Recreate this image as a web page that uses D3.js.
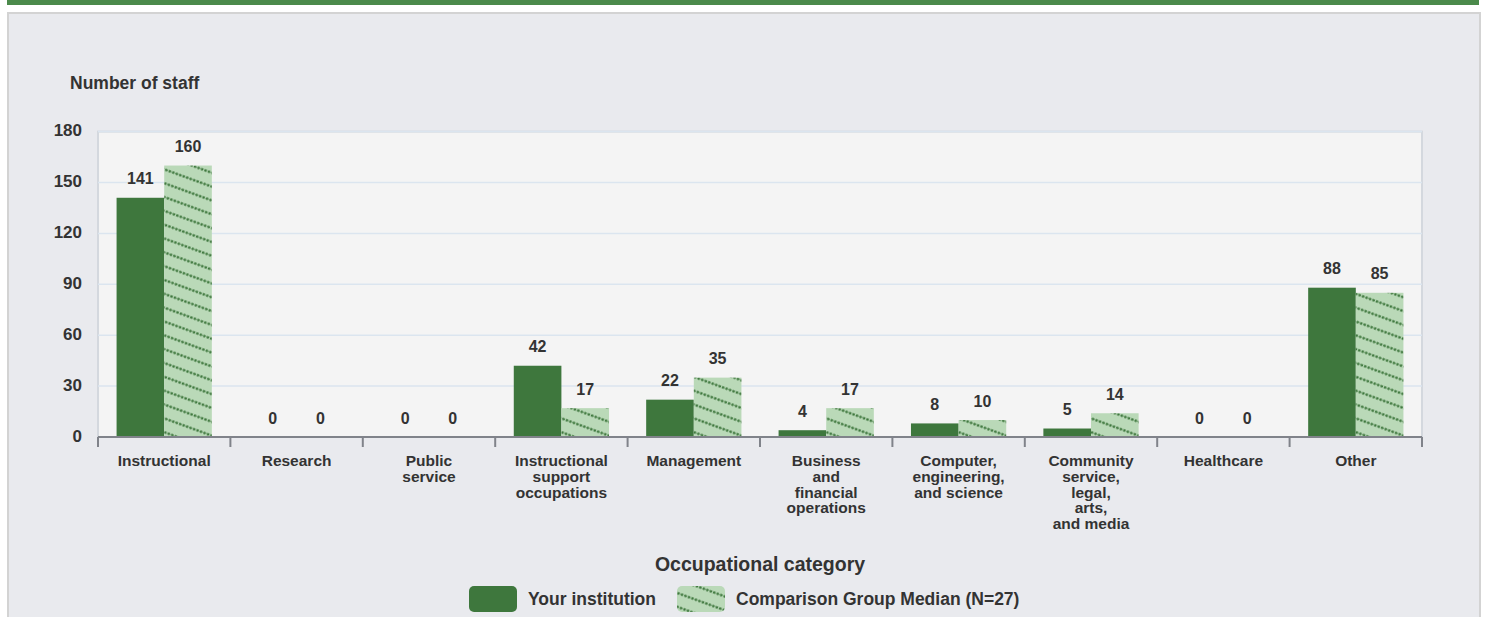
<!DOCTYPE html>
<html>
<head>
<meta charset="utf-8">
<script src="https://cdn.jsdelivr.net/npm/d3@7"></script>
<style>
  body { margin: 0; background: #fff; }
  svg text { font-family: Arial, "Liberation Sans", sans-serif; fill: #333; font-weight: bold; }
</style>
</head>
<body>
<svg width="1488" height="617"></svg>
<script>
// Chart data
const categories = ['Instructional', 'Research', 'Public service', 'Instructional support occupations',
  'Management', 'Business and financial operations', 'Computer, engineering, and science',
  'Community service, legal, arts, and media', 'Healthcare', 'Other']
// how each category label is broken in lines
const categoryLines = [
  ['Instructional'], ['Research'], ['Public', 'service'], ['Instructional', 'support', 'occupations'],
  ['Management'], ['Business', 'and', 'financial', 'operations'], ['Computer,', 'engineering,', 'and science'],
  ['Community', 'service,', 'legal,', 'arts,', 'and media'], ['Healthcare'], ['Other']
]
const yourInstitution = [141, 0, 0, 42, 22, 4, 8, 5, 0, 88]
const comparisonMedian = [160, 0, 0, 17, 35, 17, 10, 14, 0, 85]
const seriesNames = ['Your institution', 'Comparison Group Median (N=27)']
const yTicks = [0, 30, 60, 90, 120, 150, 180]

const dark = '#3e773d'
const light = '#bad9b8'

const svg = d3.select('svg')

// page frame
svg.append('rect').attr('x', 7).attr('y', 0).attr('width', 1472).attr('height', 5).attr('fill', '#4b8a4b')
svg.append('rect').attr('x', 8).attr('y', 13).attr('width', 1472).attr('height', 620)
  .attr('fill', '#e9eaee').attr('stroke', '#d3d3d3').attr('stroke-width', 2)

// hatch pattern for the comparison bars (dotted diagonal lines)
const defs = svg.append('defs')
const pat = defs.append('pattern')
  .attr('id', 'hatch')
  .attr('patternUnits', 'userSpaceOnUse')
  .attr('width', 37).attr('height', 13)
  .attr('patternTransform', 'rotate(20)')
pat.append('rect').attr('width', 37).attr('height', 13).attr('fill', light)
pat.append('line')
  .attr('x1', 0).attr('x2', 37).attr('y1', 6.5).attr('y2', 6.5)
  .attr('stroke', dark).attr('stroke-width', 2.3)
  .attr('stroke-linecap', 'round').attr('stroke-dasharray', '0.6 3.1')

const plotLeft = 98, plotRight = 1422, plotTop = 131.6, plotBottom = 437

const x0 = d3.scaleBand().domain(categories).range([plotLeft, plotRight])
const x1 = d3.scaleBand().domain(seriesNames).range([0, x0.bandwidth()]).paddingOuter(0.39)
const y = d3.scaleLinear().domain([0, 180]).range([plotBottom, plotTop])

// plot background + grid
svg.append('rect').attr('x', plotLeft).attr('y', plotTop)
  .attr('width', plotRight - plotLeft).attr('height', plotBottom - plotTop)
  .attr('fill', '#f4f4f4').attr('stroke', '#d4d8de').attr('stroke-width', 2)

svg.append('g')
  .selectAll('line')
  .data(yTicks.filter(d => d > 0))
  .enter().append('line')
    .attr('x1', plotLeft).attr('x2', plotRight)
    .attr('y1', d => y(d)).attr('y2', d => y(d))
    .attr('stroke', '#dbe5ef').attr('stroke-width', 1.5)

// y labels
svg.append('g')
  .selectAll('text')
  .data(yTicks)
  .enter().append('text')
    .attr('x', 82)
    .attr('y', d => y(d) + 4.5)
    .attr('text-anchor', 'end')
    .attr('font-size', '17px')
    .text(d => d)

svg.append('text').attr('x', 70).attr('y', 89).attr('font-size', '17.5px').text('Number of staff')

// bars
const groups = svg.append('g')
  .selectAll('g')
  .data(categories)
  .enter().append('g')
    .attr('transform', d => `translate(${x0(d)},0)`)

groups.each(function (c, i) {
  const vals = [yourInstitution[i], comparisonMedian[i]]
  const g = d3.select(this)
  g.selectAll('rect')
    .data(vals)
    .enter().append('rect')
      .attr('x', (d, j) => x1(seriesNames[j]))
      .attr('y', d => y(d))
      .attr('width', x1.bandwidth())
      .attr('height', d => plotBottom - y(d))
      .attr('fill', (d, j) => j === 0 ? dark : 'url(#hatch)')
  g.selectAll('text')
    .data(vals)
    .enter().append('text')
      .attr('x', (d, j) => x1(seriesNames[j]) + x1.bandwidth() / 2)
      .attr('y', d => y(d) - 13.5)
      .attr('text-anchor', 'middle')
      .attr('font-size', '16px')
      .text(d => d)
})

// x axis line and boundary ticks
const boundaries = categories.map(c => x0(c)).concat([plotRight])
svg.append('line').attr('x1', plotLeft).attr('x2', plotRight).attr('y1', plotBottom).attr('y2', plotBottom)
  .attr('stroke', '#80838a').attr('stroke-width', 2)
svg.append('g')
  .selectAll('line')
  .data(boundaries)
  .enter().append('line')
    .attr('x1', d => d).attr('x2', d => d)
    .attr('y1', plotBottom).attr('y2', plotBottom + 10)
    .attr('stroke', '#80838a').attr('stroke-width', 2)

// category labels
svg.append('g')
  .selectAll('text')
  .data(categories)
  .enter().append('text')
    .attr('x', d => x0(d) + x0.bandwidth() / 2)
    .attr('y', 466)
    .attr('text-anchor', 'middle')
    .attr('font-size', '15.5px')
    .each(function (d, i) {
      d3.select(this).selectAll('tspan')
        .data(categoryLines[i])
        .enter().append('tspan')
          .attr('x', x0(d) + x0.bandwidth() / 2)
          .attr('dy', (t, k) => k === 0 ? 0 : 15.8)
          .text(t => t)
    })

svg.append('text').attr('x', (plotLeft + plotRight) / 2).attr('y', 571)
  .attr('text-anchor', 'middle').attr('font-size', '19.5px').text('Occupational category')

// legend
const legendX = [469, 677]
const legend = svg.append('g')
  .selectAll('g')
  .data(seriesNames)
  .enter().append('g')
    .attr('transform', (d, i) => `translate(${legendX[i]},586)`)
legend.append('rect')
  .attr('width', 48).attr('height', 26).attr('rx', 5)
  .attr('fill', (d, i) => i === 0 ? dark : 'url(#hatch)')
legend.append('text')
  .attr('x', 59).attr('y', 18.5)
  .attr('font-size', '17.5px')
  .text(d => d)
</script>
</body>
</html>
